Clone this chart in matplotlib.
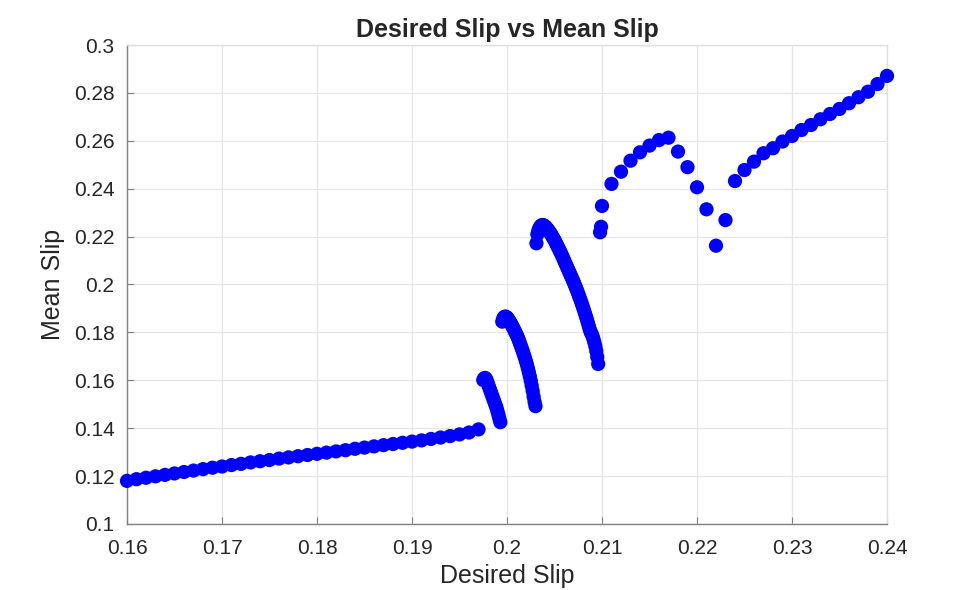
import numpy as np
import matplotlib
matplotlib.use('Agg')
import matplotlib.pyplot as plt

plt.rcParams['font.family'] = ['Liberation Sans', 'DejaVu Sans']

# low branch, step 0.001
x_low = np.round(np.arange(0.160, 0.1975, 0.001), 4)
y_low = [0.1180, 0.1187, 0.1193, 0.1199, 0.1205, 0.1211, 0.1217, 0.1223, 0.1229, 0.1235,
         0.1240, 0.1246, 0.1251, 0.1257, 0.1262, 0.1267, 0.1273, 0.1278, 0.1283, 0.1288,
         0.1293, 0.1298, 0.1303, 0.1308, 0.1314, 0.1319, 0.1324, 0.1329, 0.1334, 0.1339,
         0.1344, 0.1349, 0.1355, 0.1361, 0.1367, 0.1374, 0.1382, 0.1395]

# first small arc, step 0.0001
x_arc1 = np.round(np.arange(0.1975, 0.19935, 0.0001), 5)
y_arc1 = [0.1601, 0.1608, 0.1610, 0.1605, 0.1596, 0.1585, 0.1573, 0.1562, 0.1551, 0.1540,
          0.1529, 0.1518, 0.1507, 0.1496, 0.1485, 0.1470, 0.1456, 0.1440, 0.1425]

# second arc
x_arc2 = np.round(np.arange(0.1995, 0.20305, 0.0001), 5)
y_arc2 = [0.1845, 0.1858, 0.1864, 0.1866, 0.1865, 0.1862, 0.1857, 0.1851, 0.1845, 0.1838,
          0.1831, 0.1823, 0.1815, 0.1807, 0.1799, 0.1791, 0.1782, 0.1772, 0.1761, 0.1750,
          0.1739, 0.1728, 0.1716, 0.1704, 0.1692, 0.1679, 0.1665, 0.1650, 0.1634, 0.1617,
          0.1598, 0.1578, 0.1556, 0.1532, 0.1510, 0.1492]

# third arc
x_arc3 = np.round(np.arange(0.2031, 0.20965, 0.0001), 5)
y_arc3 = [0.2172, 0.2210, 0.2225, 0.2235, 0.2242, 0.2246, 0.2248, 0.2248, 0.2246, 0.2243,
          0.2239, 0.2234, 0.2229, 0.2224, 0.2218, 0.2212, 0.2206, 0.2199, 0.2192, 0.2185,
          0.2177, 0.2169, 0.2161, 0.2153, 0.2145, 0.2137, 0.2129, 0.2120, 0.2111, 0.2102,
          0.2093, 0.2084, 0.2075, 0.2066, 0.2057, 0.2048, 0.2039, 0.2030, 0.2021, 0.2012,
          0.2002, 0.1992, 0.1982, 0.1972, 0.1961, 0.1950, 0.1939, 0.1928, 0.1917, 0.1905,
          0.1893, 0.1881, 0.1868, 0.1855, 0.1842, 0.1828, 0.1814, 0.1802, 0.1794, 0.1785,
          0.1772, 0.1758, 0.1742, 0.1722, 0.1698, 0.1668]

# upper branch, step 0.001
x_high = [0.2098, 0.2099, 0.2100, 0.211, 0.212, 0.213, 0.214, 0.215, 0.216, 0.217,
          0.218, 0.219, 0.220, 0.221, 0.222, 0.223, 0.224, 0.225, 0.226, 0.227,
          0.228, 0.229, 0.230, 0.231, 0.232, 0.233, 0.234, 0.235, 0.236, 0.237,
          0.238, 0.239, 0.240]
y_high = [0.2218, 0.2241, 0.2328, 0.2420, 0.2471, 0.2517, 0.2552, 0.2580, 0.2603, 0.2613,
          0.2555, 0.2490, 0.2406, 0.2314, 0.2162, 0.2269, 0.2432, 0.2478, 0.2513, 0.2548,
          0.2569, 0.2597, 0.2620, 0.2645, 0.2666, 0.2690, 0.2712, 0.2733, 0.2757, 0.2782,
          0.2805, 0.2837, 0.2871]

xticklabels = ['0.16', '0.17', '0.18', '0.19', '0.2', '0.21', '0.22', '0.23', '0.24']
yticklabels = ['0.1', '0.12', '0.14', '0.16', '0.18', '0.2', '0.22', '0.24', '0.26', '0.28', '0.3']

x_all = np.concatenate([x_low, x_arc1, x_arc2, x_arc3, x_high])
y_all = np.concatenate([y_low, y_arc1, y_arc2, y_arc3, y_high])

fig = plt.figure(figsize=(9.8, 5.9), dpi=100)
ax = fig.add_axes([0.1296, 0.1119, 0.7755, 0.8118])

ax.scatter(x_all, y_all, s=105, c='#0000ff', edgecolors='none', zorder=3, clip_on=False)

ax.set_xlim(0.16, 0.24)
ax.set_ylim(0.1, 0.3)
ax.set_xticks(np.round(np.arange(0.16, 0.2401, 0.01), 2))
ax.set_xticklabels(xticklabels)
ax.set_yticks(np.round(np.arange(0.1, 0.3001, 0.02), 2))
ax.set_yticklabels(yticklabels)

ax.grid(True, color='#e6e6e6', linewidth=1.0, zorder=0)
ax.set_axisbelow(True)
ax.tick_params(direction='in', length=5, width=0.8, color='#808080',
               labelsize=15, labelcolor='#262626', top=False, right=False)
ax.tick_params(axis='y', pad=9)
ax.tick_params(axis='x', pad=11)
for side in ['left', 'bottom']:
    ax.spines[side].set_color('#808080')
    ax.spines[side].set_linewidth(1.0)
for side in ['top', 'right']:
    ax.spines[side].set_color('#e0e0e0')
    ax.spines[side].set_linewidth(1.0)

ax.set_xlabel('Desired Slip', fontsize=18, color='#262626', labelpad=4)
ax.set_ylabel('Mean Slip', fontsize=18, color='#262626', labelpad=6)
ax.set_title('Desired Slip vs Mean Slip', fontsize=18, fontweight='bold', color='#262626', pad=6)

fig.savefig('out.png', dpi=100)
